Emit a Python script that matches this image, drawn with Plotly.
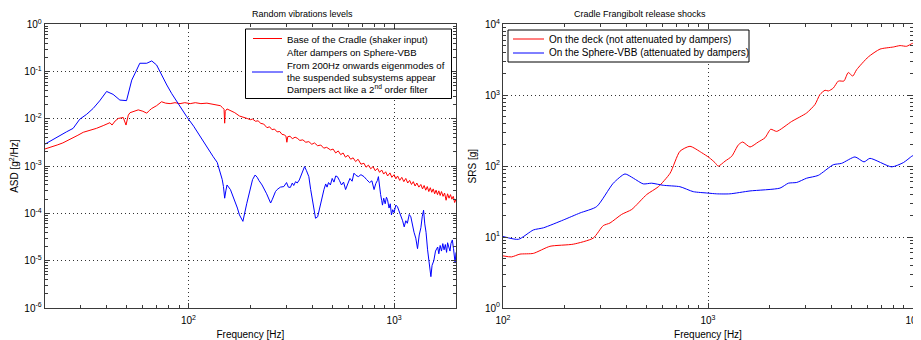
import plotly.graph_objects as go

# ---------------- Left panel: Random vibrations levels ----------------
freq_base = [20, 21.5, 23, 24.5, 26, 27.5, 29, 30.8, 33, 35.7, 38.5, 41.5, 42.5, 44, 45.6, 48.2, 49.7, 51, 52,
             54.5, 57, 60, 62.7, 64.5, 66.3, 70, 74, 77.5, 81.5, 86, 91, 96, 102, 108, 115, 123, 131, 138, 143,
             146, 149, 150, 151, 154, 160, 168, 177, 185, 193, 200, 205, 212, 218, 225, 232, 241, 248, 255, 262,
             270, 278, 285, 292, 298, 301, 304, 312, 320, 330, 338, 348, 360, 372, 385, 398, 410, 425, 440, 455,
             470, 491, 505, 520, 535, 550, 565, 580, 597, 615, 632, 650, 668, 690, 714, 730, 750, 770, 790, 810,
             830, 850, 870, 890, 910, 930, 955, 975, 1000, 1020, 1040, 1065, 1090, 1115, 1140, 1165, 1190, 1215,
             1240, 1265, 1290, 1320, 1349, 1375, 1400, 1425, 1450, 1475, 1500, 1525, 1550, 1575, 1600, 1625,
             1650, 1675, 1700, 1730, 1760, 1790, 1820, 1850, 1880, 1910, 1940, 1970, 2000]
asd_base = [2.3e-3, 2.5e-3, 2.8e-3, 3.1e-3, 3.5e-3, 3.9e-3, 4.5e-3, 5.2e-3, 5.6e-3, 6.3e-3, 7.2e-3, 8.3e-3,
            7.4e-3, 9.0e-3, 1.02e-2, 1.07e-2, 7.4e-3, 1.2e-2, 1.35e-2, 1.45e-2, 1.55e-2, 1.45e-2, 1.32e-2,
            1.5e-2, 1.66e-2, 1.9e-2, 2.3e-2, 2.15e-2, 2.1e-2, 2.2e-2, 2.1e-2, 2.2e-2, 2.1e-2, 2.2e-2, 2.1e-2,
            2.15e-2, 2.05e-2, 2.0e-2, 1.9e-2, 1.75e-2, 1.6e-2, 8.1e-3, 1.45e-2, 1.62e-2, 1.5e-2, 1.35e-2,
            1.15e-2, 1.1e-2, 1.02e-2, 9.6e-3, 9.9e-3, 8.9e-3, 9.1e-3, 8.0e-3, 7.8e-3, 6.5e-3, 6.8e-3, 5.9e-3,
            6.1e-3, 5.3e-3, 5.4e-3, 4.7e-3, 4.6e-3, 4.3e-3, 3.2e-3, 4.2e-3, 4.3e-3, 3.8e-3, 4.1e-3, 3.9e-3,
            3.5e-3, 3.6e-3, 3.2e-3, 3.3e-3, 2.9e-3, 3.1e-3, 2.7e-3, 2.8e-3, 2.4e-3, 2.5e-3, 2.2e-3, 2.3e-3,
            1.9e-3, 2.1e-3, 1.75e-3, 1.9e-3, 1.55e-3, 1.7e-3, 1.4e-3, 1.5e-3, 1.25e-3, 1.4e-3, 1.1e-3, 1.15e-3,
            0.95e-3, 1.05e-3, 0.88e-3, 0.98e-3, 0.8e-3, 0.9e-3, 0.74e-3, 0.83e-3, 0.68e-3, 0.76e-3, 0.62e-3,
            0.72e-3, 0.58e-3, 0.66e-3, 0.54e-3, 0.62e-3, 0.5e-3, 0.58e-3, 0.47e-3, 0.55e-3, 0.44e-3, 0.5e-3,
            0.41e-3, 0.47e-3, 0.38e-3, 0.44e-3, 0.36e-3, 0.41e-3, 0.33e-3, 0.39e-3, 0.31e-3, 0.37e-3, 0.29e-3,
            0.35e-3, 0.28e-3, 0.33e-3, 0.26e-3, 0.31e-3, 0.25e-3, 0.3e-3, 0.24e-3, 0.29e-3, 0.23e-3, 0.27e-3,
            0.19e-3, 0.26e-3, 0.21e-3, 0.25e-3, 0.2e-3, 0.23e-3, 0.17e-3, 0.2e-3]

freq_vbb = [20, 21.8, 23.7, 25.5, 27.5, 29.6, 32, 34.4, 37, 40, 43, 46.4, 50, 53, 55.5, 58, 62.7, 66.3, 70, 74,
            78.5, 83, 87.8, 93, 98, 106, 114, 123, 132, 138, 143, 146, 148, 150, 152, 154, 160, 165, 169, 173,
            177, 184, 192, 200, 205, 211, 216, 220, 228, 240, 251, 256, 260, 265, 270, 280, 291, 300, 306, 313,
            320, 325, 332, 338, 346, 355, 362, 367, 375, 385, 393, 400, 407, 415, 425, 432, 439, 447, 456, 465,
            472, 480, 490, 500, 510, 520, 530, 542, 555, 568, 581, 595, 610, 625, 638, 652, 670, 690, 714, 735,
            760, 780, 799, 815, 830, 839, 850, 860, 870, 878, 890, 905, 918, 929, 945, 958, 971, 985, 1000,
            1020, 1039, 1060, 1080, 1100, 1120, 1140, 1160, 1185, 1206, 1225, 1250, 1275, 1300, 1325, 1350,
            1370, 1391, 1410, 1430, 1455, 1480, 1510, 1530, 1560, 1590, 1629, 1650, 1675, 1700, 1725, 1750,
            1775, 1800, 1820, 1845, 1870, 1890, 1920, 1945, 1963, 1980, 2000]
asd_vbb = [2.9e-3, 3.6e-3, 4.6e-3, 5.3e-3, 6.3e-3, 9.8e-3, 1.25e-2, 1.66e-2, 2.4e-2, 3.8e-2, 3.3e-2, 2.5e-2,
           2.43e-2, 6.6e-2, 1.0e-1, 1.5e-1, 1.5e-1, 1.68e-1, 1.38e-1, 8.5e-2, 5.2e-2, 3.4e-2, 2.3e-2, 1.6e-2,
           1.12e-2, 7.0e-3, 4.2e-3, 2.6e-3, 1.58e-3, 1.2e-3, 7.1e-4, 5.2e-4, 3.7e-4, 2.1e-4, 3.0e-4, 4.0e-4,
           3.2e-4, 2.3e-4, 1.66e-4, 1.3e-4, 9.3e-5, 6.8e-5, 1.6e-4, 3.7e-4, 5.2e-4, 6.5e-4, 5.8e-4, 5.0e-4,
           4.0e-4, 2.6e-4, 1.66e-4, 2.0e-4, 2.4e-4, 2.9e-4, 3.2e-4, 3.6e-4, 3.7e-4, 4.5e-4, 3.6e-4, 3.55e-4,
           4.4e-4, 3.9e-4, 4.7e-4, 4.4e-4, 5.1e-4, 7.0e-4, 8.4e-4, 9.8e-4, 8.0e-4, 6.0e-4, 3.2e-4, 2.0e-4,
           1.2e-4, 7.9e-5, 8.5e-5, 1.2e-4, 1.66e-4, 2.4e-4, 3.2e-4, 4.2e-4, 3.6e-4, 4.5e-4, 4.0e-4, 5.5e-4,
           4.6e-4, 6.2e-4, 6.0e-4, 5.0e-4, 4.0e-4, 4.6e-4, 3.2e-4, 4.2e-4, 5.5e-4, 4.8e-4, 7.1e-4, 6.4e-4,
           6.0e-4, 6.6e-4, 6.0e-4, 5.2e-4, 4.5e-4, 4.9e-4, 3.2e-4, 4.3e-4, 5.0e-4, 6.0e-4, 3.5e-4, 2.5e-4,
           1.9e-4, 1.5e-4, 2.1e-4, 1.6e-4, 2.2e-4, 1.95e-4, 1.3e-4, 1.6e-4, 9.3e-5, 1.2e-4, 1.05e-4, 1.5e-4,
           1.38e-4, 1.1e-4, 9.0e-5, 7.0e-5, 5.2e-5, 7.0e-5, 6.2e-5, 9.5e-5, 8.5e-5, 6.0e-5, 4.0e-5, 3.0e-5,
           1.8e-5, 3.5e-5, 5.0e-5, 8.5e-5, 1.17e-4, 6.0e-5, 4.0e-5, 1.7e-5, 9.0e-6, 4.6e-6, 8.0e-6, 1.0e-5,
           1.6e-5, 1.95e-5, 1.4e-5, 2.1e-5, 1.6e-5, 2.3e-5, 1.7e-5, 2.2e-5, 1.5e-5, 2.4e-5, 1.95e-5, 1.6e-5,
           2.3e-5, 2.75e-5, 1.8e-5, 1.4e-5, 8.9e-6, 1.5e-5, 2.3e-5]

# ---------------- Right panel: Cradle Frangibolt release shocks ----------------
freq_deck = [100, 110, 121, 140.6, 169.4, 220.3, 275.4, 308.3, 332.7, 379.3, 424.6, 502.3, 572.8, 653.1,
             729.5, 816.6, 931, 1014, 1081, 1122, 1211, 1306, 1406, 1476, 1603, 1758, 1897, 2023, 2163, 2559,
             3027, 3327, 3516, 3724, 3864, 4083, 4325, 4603, 4831, 5082, 5309, 6053, 6902, 8017, 8650, 9311,
             9908, 10000]
srs_deck = [5.43, 5.25, 5.75, 5.89, 7.41, 7.94, 9.66, 14.5, 15.8, 20.9, 24.5, 39.8, 51.3, 79.4, 162, 190.5,
            155, 131.8, 112.2, 100, 117.5, 138, 199.5, 218.8, 186.2, 218.8, 251.2, 331.1, 309, 426.6, 562.3,
            741.3, 1023, 1175, 1148, 1259, 1585, 1585, 2089, 1862, 2291, 3467, 4467, 4786, 5012, 4898, 5370,
            5370]

freq_sphere = [100, 118.9, 140.6, 157.4, 196.8, 237.7, 286.4, 345.1, 393.6, 432.5, 483.1, 530.9, 605.3, 729.5,
               847.2, 1000, 1102, 1279, 1603, 2244, 2466, 2710, 3027, 3451, 4083, 4487, 5212, 5768, 6166, 7870,
               8974, 9863, 10000]
srs_sphere = [10.2, 9.3, 12.6, 13.5, 17.4, 21.9, 26.9, 57.5, 77.6, 67.6, 56.2, 57.5, 53.7, 51.3, 43.7, 41.7,
              40.7, 40.7, 44.7, 49.0, 57.5, 58.9, 67.6, 74.1, 104.7, 109.6, 134.9, 114.8, 128.8, 97.7, 112.2,
              138, 141]

# ---------------- Text ----------------
title_left = "Random vibrations levels"
title_right = "Cradle Frangibolt release shocks"
name_base = "Base of the Cradle (shaker input)"
vbb_lines = ["After dampers on Sphere-VBB", "From 200Hz onwards eigenmodes of",
             "the suspended subsystems appear", "Dampers act like a 2<sup>nd</sup> order filter"]
name_vbb = "<br>".join(vbb_lines)
name_deck = "On the deck (not attenuated by dampers)"
name_sphere = "On the Sphere-VBB (attenuated by dampers)"
xlabel = "Frequency [Hz]"
ylabel_left = "ASD [g<sup>2</sup>/Hz]"
ylabel_right = "SRS [g]"

xt_left_vals = [100, 1000]
xt_left_text = ["10<sup>2</sup>", "10<sup>3</sup>"]
yt_left_vals = [1e-6, 1e-5, 1e-4, 1e-3, 1e-2, 1e-1, 1]
yt_left_text = ["10<sup>-6</sup>", "10<sup>-5</sup>", "10<sup>-4</sup>", "10<sup>-3</sup>",
                "10<sup>-2</sup>", "10<sup>-1</sup>", "10<sup>0</sup>"]
xt_right_vals = [100, 1000, 10000]
xt_right_text = ["10<sup>2</sup>", "10<sup>3</sup>", "10<sup>4</sup>"]
yt_right_vals = [1, 10, 100, 1000, 10000]
yt_right_text = ["10<sup>0</sup>", "10<sup>1</sup>", "10<sup>2</sup>", "10<sup>3</sup>", "10<sup>4</sup>"]

# ---------------- Geometry (page body has an 8px margin) ----------------
OFF = 8
W, H = 921 - OFF, 340 - OFF
ML, MR, MT, MB = 36, 8, 16, 32
PW, PH = W - ML - MR, H - MT - MB
FONT = "Liberation Sans, Arial, Helvetica, sans-serif"
AX = "#3a3a3a"
RED = "#ff0000"
BLUE = "#0000ff"


def fx(px):
    return min(1.0, max(0.0, (px - OFF - ML) / PW))


def fy(py):
    return 1 - (py - OFF - MT) / PH


def ax_x(px):  # paper coordinate allowed outside [0, 1] for annotations/shapes
    return (px - OFF - ML) / PW


def minor_vals(lo_exp, hi_exp):
    return [m * 10 ** e for e in range(lo_exp, hi_exp) for m in range(2, 10)]


fig = go.Figure()
fig.add_trace(go.Scatter(x=freq_base, y=asd_base, mode="lines", name=name_base, showlegend=False,
                         line=dict(color=RED, width=1), xaxis="x", yaxis="y"))
fig.add_trace(go.Scatter(x=freq_vbb, y=asd_vbb, mode="lines", name=name_vbb, showlegend=False,
                         line=dict(color=BLUE, width=1), xaxis="x", yaxis="y"))
fig.add_trace(go.Scatter(x=freq_deck, y=srs_deck, mode="lines", name=name_deck, showlegend=False,
                         line=dict(color=RED, width=1, shape="spline", smoothing=0.6),
                         xaxis="x2", yaxis="y2"))
fig.add_trace(go.Scatter(x=freq_sphere, y=srs_sphere, mode="lines", name=name_sphere, showlegend=False,
                         line=dict(color=BLUE, width=1, shape="spline", smoothing=0.6),
                         xaxis="x2", yaxis="y2"))


def axis_common(tickvals, ticktext, minor, rng, domain, anchor, title, standoff, lab_off):
    return dict(type="log", range=rng, domain=domain, anchor=anchor, automargin=False,
                tickmode="array", tickvals=tickvals, ticktext=ticktext,
                ticks="inside", ticklen=5, tickcolor=AX, tickwidth=1,
                showline=True, linecolor=AX, linewidth=1, mirror="ticks",
                showgrid=True, gridcolor="#333333", griddash="1px,3px", gridwidth=1,
                zeroline=False, tickfont=dict(size=10, color="black", family=FONT),
                ticklabelstandoff=lab_off,
                minor=dict(tickmode="array", tickvals=minor, ticks="inside", ticklen=3,
                           tickcolor=AX, showgrid=False),
                title=dict(text=title, font=dict(size=10, color="black", family=FONT), standoff=standoff))


dom_xL = [fx(44.7), fx(456)]
dom_xR = [fx(503), fx(913)]
dom_y = [fy(308), fy(24.3)]

TXT_L = dict(size=9.6, family=FONT, color="black")
TXT_R = dict(size=10, family=FONT, color="black")

# ---- legend boxes (drawn like the MATLAB legends) ----
shapes = []
annotations = []


def legend_box(x0, x1, y0, y1):
    shapes.append(dict(type="rect", xref="paper", yref="paper", x0=ax_x(x0), x1=ax_x(x1),
                       y0=fy(y1), y1=fy(y0), line=dict(color="black", width=1),
                       fillcolor="white", layer="above"))


def legend_sample(x0, x1, y, color):
    shapes.append(dict(type="line", xref="paper", yref="paper", x0=ax_x(x0), x1=ax_x(x1),
                       y0=fy(y), y1=fy(y), line=dict(color=color, width=1), layer="above"))


def legend_text(x, y, text, font):
    annotations.append(dict(text=text, x=ax_x(x), y=fy(y), xref="paper", yref="paper",
                            xanchor="left", yanchor="middle", showarrow=False, font=font))


legend_box(245.5, 451.5, 29, 98.5)
legend_sample(253, 282, 38.5, RED)
legend_sample(252, 283, 72, BLUE)
legend_text(285, 39, name_base, TXT_L)
for yy, line in zip([53, 65, 77.5, 89.5], vbb_lines):
    legend_text(285, yy, line, TXT_L)

legend_box(508, 749, 30, 62)
legend_sample(513, 544, 39, RED)
legend_sample(513, 544, 53, BLUE)
legend_text(547, 39, name_deck, TXT_R)
legend_text(547, 53, name_sphere, TXT_R)

annotations.append(dict(text=title_left, x=(dom_xL[0] + dom_xL[1]) / 2, y=fy(14), xref="paper",
                        yref="paper", showarrow=False, font=dict(size=9, family=FONT, color="black"),
                        yanchor="middle"))
annotations.append(dict(text=title_right, x=(dom_xR[0] + dom_xR[1]) / 2, y=fy(14), xref="paper",
                        yref="paper", showarrow=False, font=dict(size=9, family=FONT, color="black"),
                        yanchor="middle"))

fig.update_layout(
    width=W, height=H,
    margin=dict(l=ML, r=MR, t=MT, b=MB, autoexpand=False),
    paper_bgcolor="white", plot_bgcolor="white",
    font=dict(family=FONT, size=10, color="black"),
    showlegend=False,
    xaxis=axis_common(xt_left_vals, xt_left_text, minor_vals(1, 4), [1.30103, 3.30103],
                      dom_xL, "y", xlabel, 7, 3),
    yaxis=axis_common(yt_left_vals, yt_left_text, minor_vals(-6, 0), [-6, 0],
                      dom_y, "x", ylabel_left, 6, 0),
    xaxis2=axis_common(xt_right_vals, xt_right_text, minor_vals(2, 4), [2, 4],
                       dom_xR, "y2", xlabel, 7, 3),
    yaxis2=axis_common(yt_right_vals, yt_right_text, minor_vals(0, 4), [0, 4],
                       dom_y, "x2", ylabel_right, 6, 0),
    shapes=shapes,
    annotations=annotations,
)

fig.write_html("out.html")
